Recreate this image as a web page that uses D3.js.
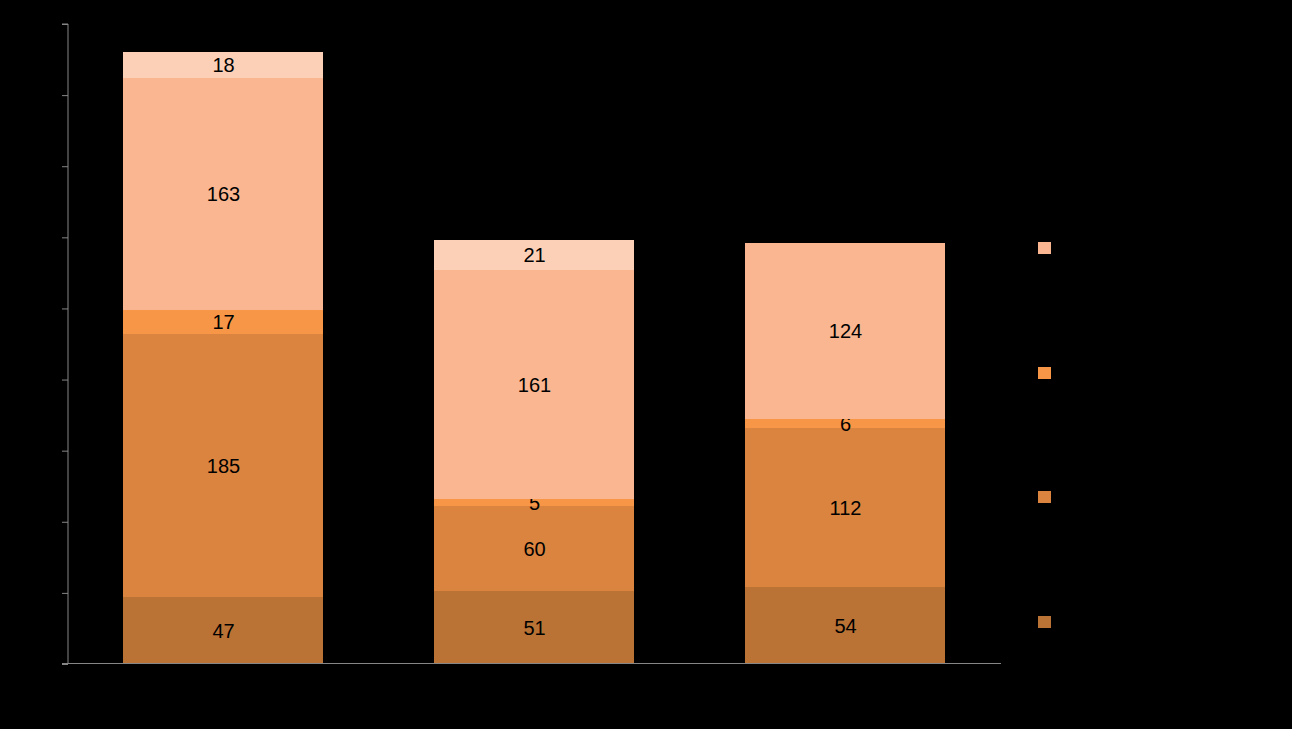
<!DOCTYPE html>
<html>
<head>
<meta charset="utf-8">
<script src="https://cdn.jsdelivr.net/npm/d3@7"></script>
<style>
  html, body { margin: 0; padding: 0; background: #000; }
  svg { display: block; }
</style>
</head>
<body>
<svg id="chart" width="1292" height="729"></svg>
<script>
const categories = ["A", "B", "C"];
const seriesNames = ["s1", "s2", "s3", "s4", "s5"];
const s1 = [47, 51, 54];
const s2 = [185, 60, 112];
const s3 = [17, 5, 6];
const s4 = [163, 161, 124];
const s5 = [18, 21, 0];
const yTicks = [0, 50, 100, 150, 200, 250, 300, 350, 400, 450];
const colors = ["#BA7335", "#DA843F", "#F79646", "#F9B690", "#FCCFB7"];
const legendOrder = [3, 2, 1, 0];

(function () {
const svg = d3.select("#chart");
const mLeft = 68, mRight = 1001, mTop = 24, mBottom = 664;

const rows = categories.map((c, i) => ({cat: c, s1: s1[i], s2: s2[i], s3: s3[i], s4: s4[i], s5: s5[i]}));
const stack = d3.stack().keys(seriesNames)(rows);

const x = d3.scaleBand().domain(categories).range([mLeft, mRight]).paddingInner(0.356).paddingOuter(0.178);
const y = d3.scaleLinear().domain([0, 450]).range([mBottom, mTop]);

// bars
const layers = svg.append("g").selectAll("g").data(stack).join("g")
  .attr("fill", (d, i) => colors[i]);
layers.selectAll("rect").data(d => d.filter(p => p[1] - p[0] > 0)).join("rect")
  .attr("shape-rendering", "crispEdges")
  .attr("x", d => Math.round(x(d.data.cat)))
  .attr("width", Math.round(x.bandwidth()))
  .attr("y", d => Math.round(y(d[1])))
  .attr("height", d => Math.round(y(d[0])) - Math.round(y(d[1])));

// labels
layers.selectAll("text").data(d => d.filter(p => p[1] - p[0] > 0)).join("text")
  .attr("x", d => x(d.data.cat) + x.bandwidth() / 2)
  .attr("y", d => (y(d[0]) + y(d[1])) / 2)
  .attr("dy", "0.36em")
  .attr("text-anchor", "middle")
  .attr("fill", "#000")
  .style("font-family", "'Liberation Sans', Arial, sans-serif")
  .style("font-size", "20px")
  .text(d => d[1] - d[0]);

// y axis
const yAxis = d3.axisLeft(y).tickValues(yTicks).tickSize(6).tickFormat("");
const gy = svg.append("g").attr("transform", `translate(${mLeft},0)`).call(yAxis);
gy.selectAll("path, line").attr("stroke", "#868686").attr("stroke-width", 1);
gy.select(".domain").attr("d", `M-6,${y(450)}H0V${y(0)}`);

// x axis
const xAxis = d3.axisBottom(x).tickSize(0).tickFormat("");
const gx = svg.append("g").attr("transform", `translate(0,${mBottom - 1})`).call(xAxis);
gx.select(".domain").attr("stroke", "#868686").attr("d", `M${mLeft - 6},0.5H${mRight}`);

// legend
const legend = svg.append("g");
legendOrder.forEach((si, k) => {
  legend.append("rect")
    .attr("x", 1038).attr("y", 242 + k * 124.5)
    .attr("width", 13).attr("height", 12)
    .attr("shape-rendering", "crispEdges")
    .attr("fill", colors[si]);
});
})();
</script>
</body>
</html>
